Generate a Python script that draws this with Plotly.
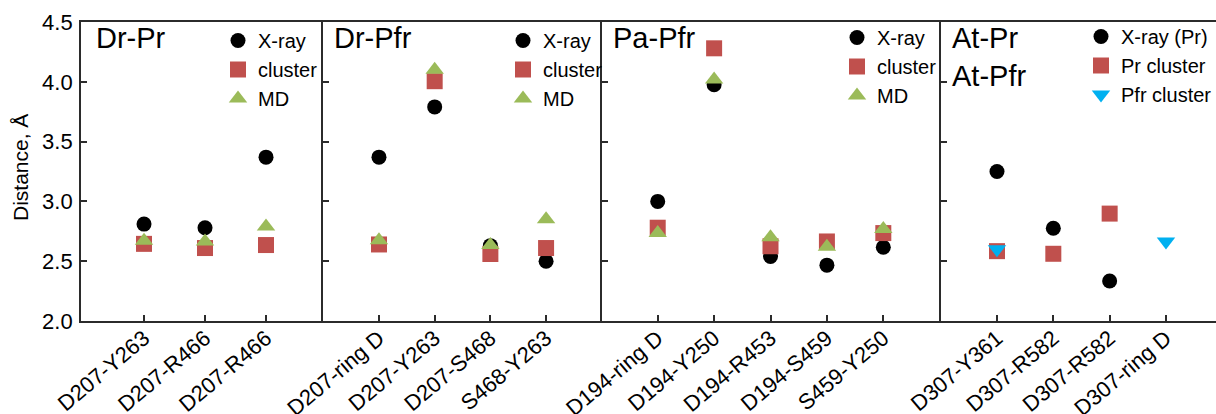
import plotly.graph_objects as go

# ---------------- data ----------------
p1_labels = ["D207-Y263", "D207-R466", "D207-R466"]
p1_xray = [2.81, 2.78, 3.37]
p1_cluster = [2.645, 2.61, 2.635]
p1_md = [2.67, 2.665, 2.79]

p2_labels = ["D207-ring D", "D207-Y263", "D207-S468", "S468-Y263"]
p2_xray = [3.37, 3.79, 2.63, 2.50]
p2_cluster = [2.64, 4.005, 2.56, 2.61]
p2_md = [2.675, 4.10, 2.635, 2.85]

p3_labels = ["D194-ring D", "D194-Y250", "D194-R453", "D194-S459", "S459-Y250"]
p3_xray = [3.00, 3.975, 2.54, 2.467, 2.617]
p3_cluster = [2.78, 4.28, 2.625, 2.665, 2.735]
p3_md = [2.735, 4.02, 2.70, 2.62, 2.77]

p4_labels = ["D307-Y361", "D307-R582", "D307-R582", "D307-ring D"]
p4_xray = [3.25, 2.776, 2.334, None]
p4_pr_cluster = [2.584, 2.562, 2.898, None]
p4_pfr_cluster = [2.60, None, None, 2.665]

panel_titles = ["Dr-Pr", "Dr-Pfr", "Pa-Pfr", "At-Pr<br>At-Pfr"]
y_ticks = [2.0, 2.5, 3.0, 3.5, 4.0, 4.5]

# ---------------- layout helpers ----------------
W, H = 1216, 414
ML, MR, MT, MB = 81, 0, 22, 93
PW, PH = W - ML - MR, H - MT - MB


def px(x):
    return (x - ML) / PW


def py(y):
    return (H - MB - y) / PH


FONT = "Liberation Sans, Arial, sans-serif"
BLACK = "#000000"
AXC = "#2b2b2b"
RED = "#C0504D"
GREEN = "#9BBB59"
BLUE = "#00B0F0"

panel_px = [(81, 323), (323, 602), (602, 941), (941, 1216)]
x_ranges = [[-1.033, 2.934], [-1.005, 4.004], [-0.988, 5.023], [-0.994, 3.888]]
legend_pos = [(218, 21), (503, 21), (837, 18), (1081, 17)]
title_dx = [13, 9, 9, 9]

panels = [
    (p1_labels, [("X-ray", p1_xray, "circle", BLACK, 15),
                 ("cluster", p1_cluster, "square", RED, 16),
                 ("MD", p1_md, "triangle-up", GREEN, 16)]),
    (p2_labels, [("X-ray", p2_xray, "circle", BLACK, 15),
                 ("cluster", p2_cluster, "square", RED, 16),
                 ("MD", p2_md, "triangle-up", GREEN, 16)]),
    (p3_labels, [("X-ray", p3_xray, "circle", BLACK, 15),
                 ("cluster", p3_cluster, "square", RED, 16),
                 ("MD", p3_md, "triangle-up", GREEN, 16)]),
    (p4_labels, [("X-ray (Pr)", p4_xray, "circle", BLACK, 15),
                 ("Pr cluster", p4_pr_cluster, "square", RED, 16),
                 ("Pfr cluster", p4_pfr_cluster, "triangle-down", BLUE, 16)]),
]

fig = go.Figure()
layout = dict(
    width=W, height=H,
    margin=dict(l=ML, r=MR, t=MT, b=MB, pad=0, autoexpand=False),
    paper_bgcolor="white", plot_bgcolor="white",
    font=dict(family=FONT, size=20, color=BLACK),
    showlegend=True,
)

annotations = []
for i, (labels, series) in enumerate(panels):
    n = i + 1
    xa = "x" if n == 1 else f"x{n}"
    ya = "y" if n == 1 else f"y{n}"
    lg = "legend" if n == 1 else f"legend{n}"
    xs = list(range(len(labels)))
    for name, vals, sym, col, size in series:
        fig.add_trace(go.Scatter(
            x=xs, y=vals, mode="markers", name=name,
            marker=dict(symbol=sym, color=col, size=size, line=dict(width=0)),
            xaxis=xa, yaxis=ya, legend=lg,
        ))
    x0, x1 = panel_px[i]
    layout["xaxis" if n == 1 else f"xaxis{n}"] = dict(
        domain=[px(x0), min(px(x1), 1.0)],
        range=x_ranges[i], automargin=False,
        tickmode="array", tickvals=xs, ticktext=labels,
        tickangle=-40, tickfont=dict(size=22, color=BLACK, family=FONT),
        ticklabelstandoff=-6,
        ticks="inside", ticklen=6, tickwidth=1.5, tickcolor=AXC,
        showline=True, linecolor=AXC, linewidth=1.8, mirror=True,
        showgrid=False, zeroline=False, anchor=ya,
    )
    layout["yaxis" if n == 1 else f"yaxis{n}"] = dict(
        domain=[0, 1], range=[2.0, 4.5], automargin=False,
        tickmode="array", tickvals=y_ticks,
        ticktext=[f"{v:.1f}" for v in y_ticks],
        showticklabels=(n == 1),
        tickfont=dict(size=22, color=BLACK, family=FONT),
        ticks="inside", ticklen=6, tickwidth=1.5, tickcolor=AXC,
        ticklabelstandoff=2,
        showline=True, linecolor=AXC, linewidth=1.8, mirror=False,
        showgrid=False, zeroline=False, anchor=xa,
    )
    lx, ly = legend_pos[i]
    layout[lg] = dict(
        x=px(lx), y=py(ly), xanchor="left", yanchor="top",
        bgcolor="rgba(0,0,0,0)", borderwidth=0,
        font=dict(size=20, color=BLACK, family=FONT),
        tracegroupgap=0, itemwidth=30,
    )
    annotations.append(dict(
        text=panel_titles[i], xref="paper", yref="paper",
        x=px(x0 + title_dx[i]), y=py(20), xanchor="left", yanchor="top",
        showarrow=False, align="left",
        font=dict(size=29, color=BLACK, family=FONT),
    ))

annotations.append(dict(
    text="Distance, Å", xref="paper", yref="paper",
    x=px(20), y=py(168), xanchor="center", yanchor="middle",
    textangle=-90, showarrow=False,
    font=dict(size=21, color=BLACK, family=FONT),
))
layout["annotations"] = annotations
fig.update_layout(**layout)

fig.write_html("out.html", config={"displayModeBar": False},
               post_script="document.body.style.margin='0px';")
